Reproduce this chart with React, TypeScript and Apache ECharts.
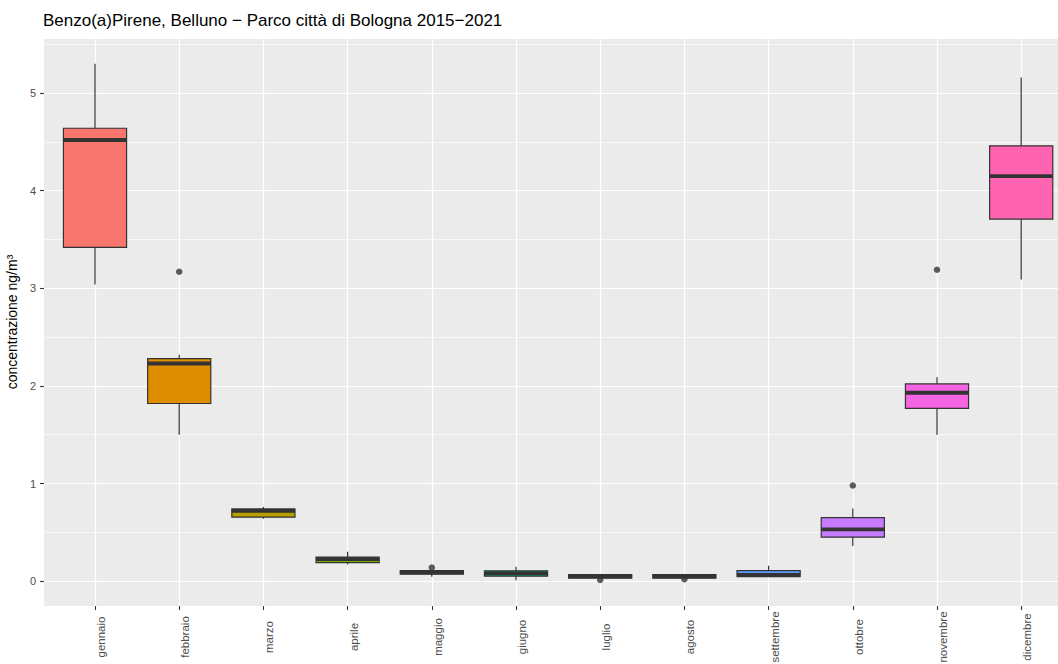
import React, { useEffect, useRef } from "react";
import * as echarts from "echarts";

const titleText = "Benzo(a)Pirene, Belluno \u2212 Parco citt\u00e0 di Bologna 2015\u22122021";
const yAxisTitle = "concentrazione ng/m\u00b3";

const months = [
  "gennaio", "febbraio", "marzo", "aprile", "maggio", "giugno",
  "luglio", "agosto", "settembre", "ottobre", "novembre", "dicembre",
];
const whiskerLow = [3.04, 1.5, 0.64, 0.17, 0.044, 0.01, 0.031, 0.031, 0.045, 0.36, 1.5, 3.09];
const quartile1 = [3.42, 1.82, 0.655, 0.19, 0.072, 0.05, 0.031, 0.031, 0.045, 0.45, 1.77, 3.71];
const medians = [4.52, 2.23, 0.72, 0.225, 0.09, 0.078, 0.05, 0.05, 0.064, 0.53, 1.93, 4.15];
const quartile3 = [4.64, 2.28, 0.74, 0.245, 0.108, 0.105, 0.066, 0.066, 0.108, 0.65, 2.02, 4.46];
const whiskerHigh = [5.3, 2.32, 0.76, 0.3, 0.112, 0.147, 0.068, 0.068, 0.157, 0.745, 2.09, 5.16];

const outlierMonths = ["febbraio", "maggio", "luglio", "agosto", "ottobre", "novembre"];
const outlierValues = [3.17, 0.14, 0.013, 0.02, 0.98, 3.19];

const yMin = -0.255;
const yMax = 5.565;

const palette = [
  "#F8766D", "#DE8C00", "#B79F00", "#7CAE00", "#00BA38", "#00C08B",
  "#00BFC4", "#00B4F0", "#619CFF", "#C77CFF", "#F564E3", "#FF64B0",
];

const FONT = "'Liberation Sans', Arial, Helvetica, sans-serif";

export default function App() {
  const ref = useRef<HTMLDivElement>(null);

  useEffect(() => {
    if (!ref.current) return;
    const chart = echarts.init(ref.current, null, { renderer: "svg" });

    const boxData = months.map((_, i) => [
      i, whiskerLow[i], quartile1[i], medians[i], quartile3[i], whiskerHigh[i],
    ]);
    const outlierData = outlierMonths.map((m, i) => [m, outlierValues[i]]);

    const option: any = {
      animation: false,
      backgroundColor: "#ffffff",
      textStyle: { fontFamily: FONT },
      title: {
        text: titleText,
        left: 43,
        top: 12,
        padding: 0,
        textStyle: { fontFamily: FONT, fontSize: 17, fontWeight: "normal", color: "#000000" },
      },
      grid: [
        {
          left: 44, top: 38, right: -14, bottom: 58,
          show: true, backgroundColor: "#EBEBEB", borderWidth: 0,
          containLabel: false, outerBoundsMode: "none",
        },
        {
          left: 52.9, top: 38, right: -5.3, bottom: 58,
          show: false,
          containLabel: false, outerBoundsMode: "none",
        },
      ],
      xAxis: [
        {
          type: "value", gridIndex: 0, min: 0, max: 1, show: false,
          splitLine: { show: false },
        },
        {
          type: "category", gridIndex: 1, data: months, boundaryGap: true,
          position: "bottom",
          axisLine: { show: false, onZero: false },
          axisTick: { show: true, alignWithLabel: true, length: 4, lineStyle: { color: "#333333", width: 1.1 } },
          splitLine: { show: true, alignWithLabel: true, lineStyle: { color: "#ffffff", width: 1.2 } },
          axisLabel: {
            interval: 0, rotate: 90, align: "center", verticalAlign: "top",
            margin: 31, fontSize: 11.5, color: "#4D4D4D", fontFamily: FONT,
          },
        },
      ],
      yAxis: [
        {
          type: "value", gridIndex: 0, min: yMin, max: yMax,
          splitNumber: 6, minInterval: 1, maxInterval: 1,
          name: yAxisTitle, nameLocation: "middle", nameGap: 27,
          nameTextStyle: { fontSize: 14, color: "#000000", fontFamily: FONT, verticalAlign: "middle" },
          axisLine: { show: false, onZero: false },
          axisTick: { show: true, length: 4, lineStyle: { color: "#333333", width: 1.1 } },
          axisLabel: {
            margin: 8, fontSize: 11, color: "#4D4D4D", fontFamily: FONT,
            showMinLabel: false, showMaxLabel: false,
          },
          splitLine: { show: true, lineStyle: { color: "#ffffff", width: 1.2 } },
          minorTick: { show: false, splitNumber: 2 },
          minorSplitLine: { show: true, lineStyle: { color: "#ffffff", width: 0.7 } },
        },
        {
          type: "value", gridIndex: 1, min: yMin, max: yMax, show: false,
          axisLine: { show: false, onZero: false },
          splitLine: { show: false },
        },
      ],
      series: [
        {
          type: "custom",
          xAxisIndex: 1,
          yAxisIndex: 1,
          data: boxData,
          encode: { x: 0, y: [1, 2, 3, 4, 5] },
          renderItem: (params: any, api: any) => {
            const idx = api.value(0);
            const lo = api.coord([idx, api.value(1)]);
            const q1 = api.coord([idx, api.value(2)]);
            const med = api.coord([idx, api.value(3)]);
            const q3 = api.coord([idx, api.value(4)]);
            const hi = api.coord([idx, api.value(5)]);
            const band = api.size([1, 0])[0];
            const w = band * 0.75;
            const cx = lo[0];
            return {
              type: "group",
              children: [
                {
                  type: "line",
                  shape: { x1: cx, y1: hi[1], x2: cx, y2: lo[1] },
                  style: { stroke: "#333333", lineWidth: 1.2 },
                },
                {
                  type: "rect",
                  shape: { x: cx - w / 2, y: q3[1], width: w, height: q1[1] - q3[1] },
                  style: { fill: palette[params.dataIndex], stroke: "#333333", lineWidth: 1.2 },
                },
                {
                  type: "line",
                  shape: { x1: cx - w / 2, y1: med[1], x2: cx + w / 2, y2: med[1] },
                  style: { stroke: "#333333", lineWidth: 3.8 },
                },
              ],
            };
          },
        },
        {
          type: "scatter",
          xAxisIndex: 1,
          yAxisIndex: 1,
          data: outlierData,
          symbol: "circle",
          symbolSize: 6.5,
          itemStyle: { color: "#333333" },
        },
      ],
    };

    chart.setOption(option);
    return () => chart.dispose();
  }, []);

  return (
    <div
      ref={ref}
      style={{ position: "fixed", left: 0, top: 0, width: 1058, height: 664, background: "#ffffff" }}
    />
  );
}
